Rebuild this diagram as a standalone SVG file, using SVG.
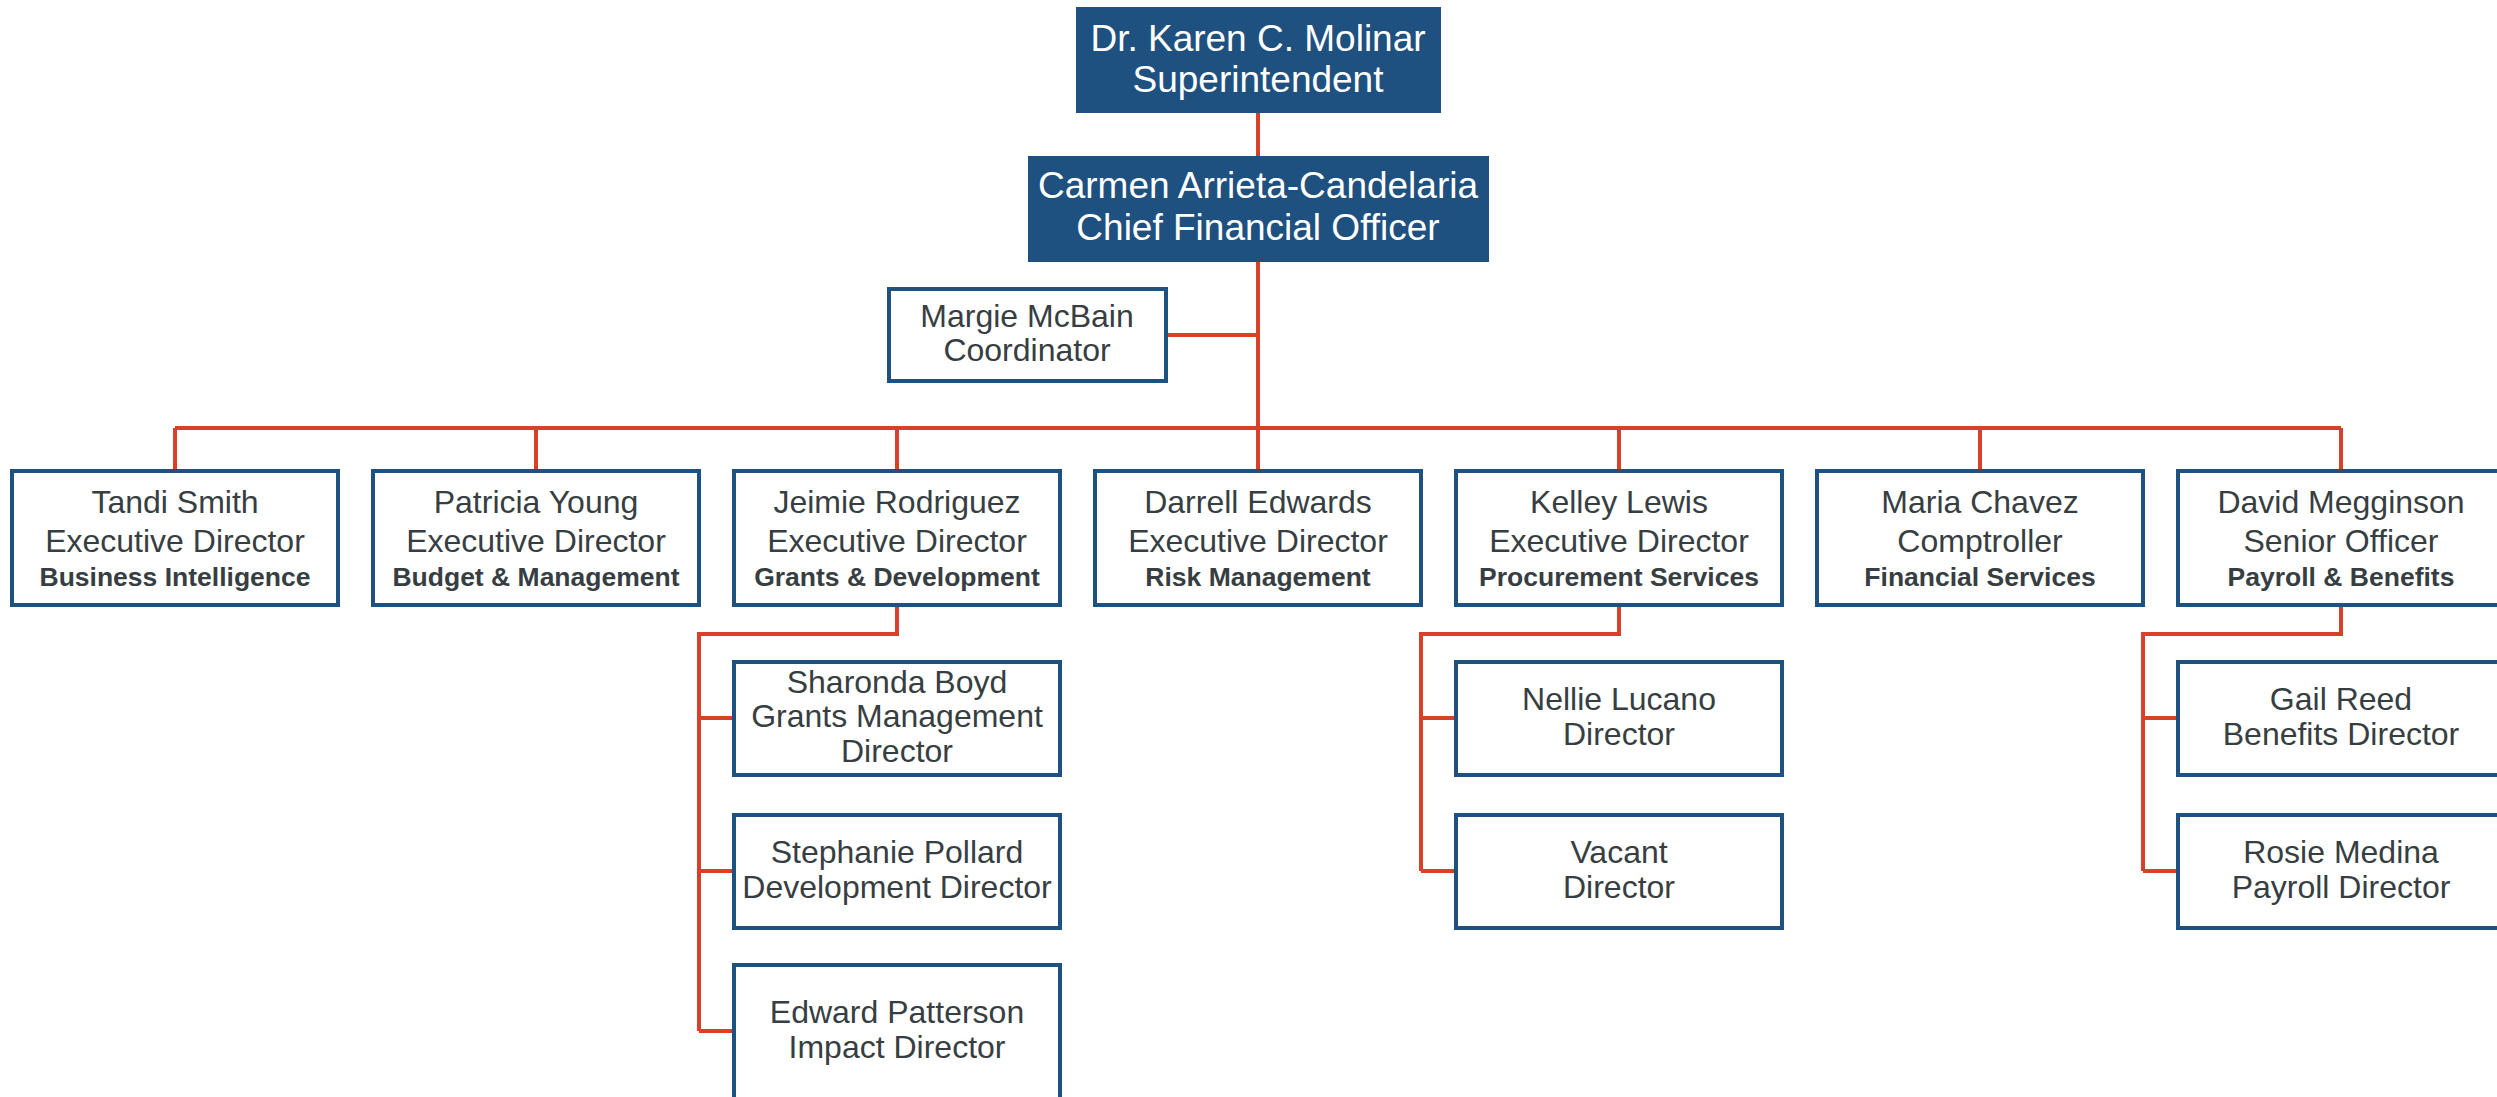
<svg xmlns="http://www.w3.org/2000/svg" width="2497" height="1097" viewBox="0 0 2497 1097">
<style>
.top{fill:#1f5180}
.box{fill:#ffffff;stroke:#1f5180;stroke-width:4}
.tw{font-family:"Liberation Sans",Arial,sans-serif;font-size:37px;fill:#ffffff;text-anchor:middle}
.t{font-family:"Liberation Sans",Arial,sans-serif;font-size:32px;fill:#373e42;text-anchor:middle}
.b{font-family:"Liberation Sans",Arial,sans-serif;font-size:26.5px;font-weight:bold;fill:#373e42;text-anchor:middle}
.c{fill:none;stroke:#d8402a;stroke-width:4}
</style>
<rect width="2497" height="1097" fill="#ffffff"/>
<g id="connectors">
<path class="c" d="M1258 113V156M1258 262V469M1168 335H1258M175 428H2341"/>
<path class="c" d="M175 428V469M536 428V469M897 428V469M1619 428V469M1980 428V469M2341 428V469"/>
<path class="c" d="M897 607V634H699V1031M699 718H732M699 871H732M699 1031H732"/>
<path class="c" d="M1619 607V634H1421V871M1421 718H1454M1421 871H1454"/>
<path class="c" d="M2341 607V634H2143V871M2143 718H2176M2143 871H2176"/>
</g>
<g id="superintendent">
<rect class="top" x="1076" y="7" width="365" height="106"/>
<text class="tw" x="1258" y="51">Dr. Karen C. Molinar</text>
<text class="tw" x="1258" y="92">Superintendent</text>
</g>
<g id="cfo">
<rect class="top" x="1028" y="156" width="461" height="106"/>
<text class="tw" x="1258" y="198">Carmen Arrieta-Candelaria</text>
<text class="tw" x="1258" y="240">Chief Financial Officer</text>
</g>
<g id="margie">
<rect class="box" x="889" y="289" width="277" height="92"/>
<text class="t" x="1027" y="327">Margie McBain</text>
<text class="t" x="1027" y="361">Coordinator</text>
</g>
<g id="tandi">
<rect class="box" x="12" y="471" width="326" height="134"/>
<text class="t" x="175" y="513">Tandi Smith</text>
<text class="t" x="175" y="552">Executive Director</text>
<text class="b" x="175" y="586">Business Intelligence</text>
</g>
<g id="patricia">
<rect class="box" x="373" y="471" width="326" height="134"/>
<text class="t" x="536" y="513">Patricia Young</text>
<text class="t" x="536" y="552">Executive Director</text>
<text class="b" x="536" y="586">Budget &amp; Management</text>
</g>
<g id="jeimie">
<rect class="box" x="734" y="471" width="326" height="134"/>
<text class="t" x="897" y="513">Jeimie Rodriguez</text>
<text class="t" x="897" y="552">Executive Director</text>
<text class="b" x="897" y="586">Grants &amp; Development</text>
</g>
<g id="darrell">
<rect class="box" x="1095" y="471" width="326" height="134"/>
<text class="t" x="1258" y="513">Darrell Edwards</text>
<text class="t" x="1258" y="552">Executive Director</text>
<text class="b" x="1258" y="586">Risk Management</text>
</g>
<g id="kelley">
<rect class="box" x="1456" y="471" width="326" height="134"/>
<text class="t" x="1619" y="513">Kelley Lewis</text>
<text class="t" x="1619" y="552">Executive Director</text>
<text class="b" x="1619" y="586">Procurement Services</text>
</g>
<g id="maria">
<rect class="box" x="1817" y="471" width="326" height="134"/>
<text class="t" x="1980" y="513">Maria Chavez</text>
<text class="t" x="1980" y="552">Comptroller</text>
<text class="b" x="1980" y="586">Financial Services</text>
</g>
<g id="david">
<rect class="box" x="2178" y="471" width="326" height="134"/>
<text class="t" x="2341" y="513">David Megginson</text>
<text class="t" x="2341" y="552">Senior Officer</text>
<text class="b" x="2341" y="586">Payroll &amp; Benefits</text>
</g>
<g id="sharonda">
<rect class="box" x="734" y="662" width="326" height="113"/>
<text class="t" x="897" y="693">Sharonda Boyd</text>
<text class="t" x="897" y="727">Grants Management</text>
<text class="t" x="897" y="762">Director</text>
</g>
<g id="stephanie">
<rect class="box" x="734" y="815" width="326" height="113"/>
<text class="t" x="897" y="863">Stephanie Pollard</text>
<text class="t" x="897" y="898">Development Director</text>
</g>
<g id="edward">
<rect class="box" x="734" y="965" width="326" height="150"/>
<text class="t" x="897" y="1023">Edward Patterson</text>
<text class="t" x="897" y="1058">Impact Director</text>
</g>
<g id="nellie">
<rect class="box" x="1456" y="662" width="326" height="113"/>
<text class="t" x="1619" y="710">Nellie Lucano</text>
<text class="t" x="1619" y="745">Director</text>
</g>
<g id="vacant">
<rect class="box" x="1456" y="815" width="326" height="113"/>
<text class="t" x="1619" y="863">Vacant</text>
<text class="t" x="1619" y="898">Director</text>
</g>
<g id="gail">
<rect class="box" x="2178" y="662" width="326" height="113"/>
<text class="t" x="2341" y="710">Gail Reed</text>
<text class="t" x="2341" y="745">Benefits Director</text>
</g>
<g id="rosie">
<rect class="box" x="2178" y="815" width="326" height="113"/>
<text class="t" x="2341" y="863">Rosie Medina</text>
<text class="t" x="2341" y="898">Payroll Director</text>
</g>
</svg>
